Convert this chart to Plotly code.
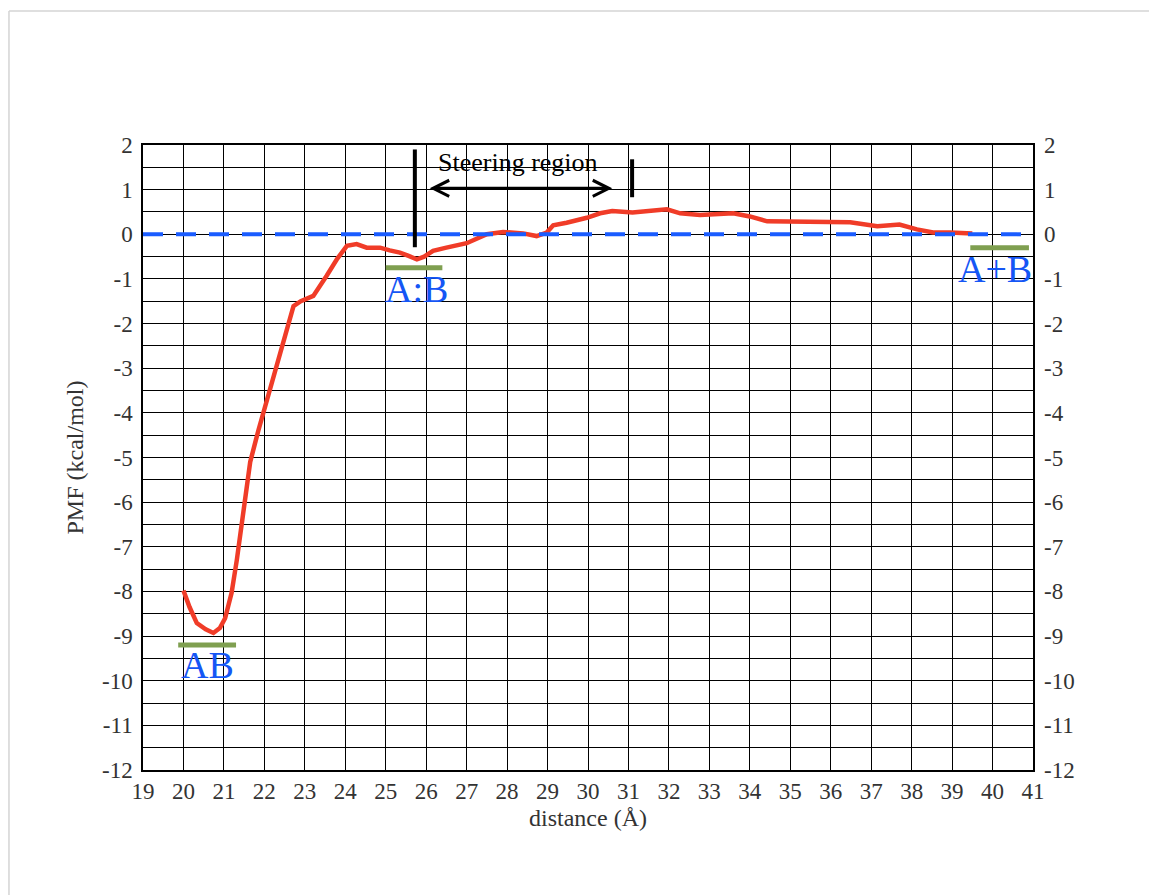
import plotly.graph_objects as go

# PMF profile along the separation coordinate
distance = [20.00, 20.15, 20.33, 20.55, 20.74, 20.9, 21.03, 21.19, 21.32, 21.42, 21.52,
            21.65, 21.85, 22.05, 22.3, 22.55, 22.72, 22.9, 23.21, 23.54, 23.8, 24.04,
            24.28, 24.53, 24.86, 25.1, 25.35, 25.55, 25.77, 25.95, 26.17, 26.5, 27.0,
            27.5, 27.9, 28.4, 28.73, 28.98, 29.14, 29.47, 29.97, 30.3, 30.6, 31.1,
            31.45, 31.95, 32.28, 32.77, 33.59, 34.0, 34.43, 35.0, 35.66, 36.48, 37.15,
            37.7, 38.13, 38.53, 38.95, 39.5]
pmf = [-7.98, -8.35, -8.71, -8.85, -8.93, -8.82, -8.6, -8.03, -7.29, -6.6, -5.9,
       -5.1, -4.4, -3.75, -3.0, -2.13, -1.61, -1.5, -1.38, -0.93, -0.55, -0.26,
       -0.22, -0.3, -0.3, -0.36, -0.41, -0.48, -0.56, -0.5, -0.37, -0.3, -0.2,
       0.0, 0.05, 0.02, -0.04, 0.04, 0.2, 0.26, 0.37, 0.47, 0.52, 0.49,
       0.52, 0.56, 0.47, 0.43, 0.47, 0.4, 0.29, 0.28, 0.27, 0.27, 0.18,
       0.22, 0.11, 0.04, 0.04, 0.02]

# Zero reference line
baseline_x = [19, 41]
baseline_y = [0, 0]

# State levels: (label, x start, x end, level, label x, label y)
state_names = ["AB", "A:B", "A+B"]
state_x0 = [19.87, 25.0, 39.45]
state_x1 = [21.3, 26.4, 40.9]
state_level = [-9.2, -0.75, -0.3]
state_label_x = [20.6, 25.77, 40.06]
state_label_y = [-9.64, -1.23, -0.78]

# Steering region markers
steer_start = 25.72
steer_end = 31.09
steer_arrow = [26.05, 30.6]
steer_arrow_y = 1.03

y_ticks = list(range(2, -13, -1))
y_ticktext = [str(v) for v in y_ticks]
x_ticks = list(range(19, 42))
x_ticktext = [str(v) for v in x_ticks]

SERIF = "Liberation Serif"
TXT = "#333333"
GREEN = "#7f9f50"
BLUE_TXT = "#1556f5"

fig = go.Figure()

fig.add_trace(go.Scatter(x=distance, y=pmf, mode="lines",
                         line=dict(color="#f03c28", width=4.5),
                         showlegend=False, hoverinfo="skip"))

fig.add_trace(go.Scatter(x=baseline_x, y=baseline_y, mode="lines",
                         line=dict(color="#1a5cff", width=4, dash="20px,13px"),
                         showlegend=False, hoverinfo="skip"))

for name, x0, x1, lv, lx, ly in zip(state_names, state_x0, state_x1, state_level,
                                     state_label_x, state_label_y):
    fig.add_trace(go.Scatter(x=[x0, x1], y=[lv, lv], mode="lines",
                             line=dict(color=GREEN, width=5),
                             showlegend=False, hoverinfo="skip"))
    fig.add_annotation(x=lx, y=ly, text=name, showarrow=False,
                       font=dict(family=SERIF, size=38, color=BLUE_TXT))

# invisible trace to carry the right-hand axis
fig.add_trace(go.Scatter(x=[19], y=[0], yaxis="y2", mode="markers",
                         marker=dict(opacity=0), showlegend=False, hoverinfo="skip"))

# steering region bars, arrow and caption
fig.add_shape(type="line", x0=steer_start, x1=steer_start, y0=1.9, y1=-0.29,
              line=dict(color="black", width=4))
fig.add_shape(type="line", x0=steer_end, x1=steer_end, y0=1.68, y1=0.83,
              line=dict(color="black", width=4))
fig.add_annotation(x=steer_arrow[1], y=steer_arrow_y, ax=steer_arrow[0], ay=steer_arrow_y,
                   xref="x", yref="y", axref="x", ayref="y", text="",
                   showarrow=True, arrowhead=5, startarrowhead=5, arrowside="end+start",
                   arrowsize=1.05, startarrowsize=1.05, arrowwidth=3, arrowcolor="black",
                   standoff=0, startstandoff=0)
fig.add_annotation(x=28.27, y=1.61, text="Steering region", showarrow=False,
                   font=dict(family=SERIF, size=26, color="black"))

# page frame
fig.add_shape(type="line", xref="paper", yref="paper", x0=-0.1506, x1=1.2,
              y0=1.2144, y1=1.2144, line=dict(color="#d4d4d4", width=1.5))
fig.add_shape(type="line", xref="paper", yref="paper", x0=-0.1506, x1=-0.1506,
              y0=1.2144, y1=-0.3, line=dict(color="#d4d4d4", width=1.5))

axis_common = dict(showline=True, linecolor="black", linewidth=1.5, mirror=True,
                   showgrid=True, gridcolor="black", gridwidth=1.3, zeroline=False,
                   ticks="", tickfont=dict(family=SERIF, size=23, color=TXT))

fig.update_layout(
    width=1149, height=895,
    margin=dict(l=143, r=116, t=145, b=125),
    paper_bgcolor="white", plot_bgcolor="white",
    xaxis=dict(range=[19, 41], tickvals=x_ticks, ticktext=x_ticktext,
               title=dict(text="distance (Å)", font=dict(family=SERIF, size=24, color=TXT),
                          standoff=6),
               **axis_common),
    yaxis=dict(range=[-12, 2], tickvals=y_ticks, ticktext=y_ticktext,
               ticklabelstandoff=4,
               minor=dict(dtick=0.5, showgrid=True, gridcolor="black", gridwidth=1.3),
               title=dict(text="PMF (kcal/mol)", font=dict(family=SERIF, size=24, color=TXT),
                          standoff=12),
               **axis_common),
    yaxis2=dict(range=[-12, 2], tickvals=y_ticks, ticktext=y_ticktext, overlaying="y",
                side="right", showgrid=False, zeroline=False, ticks="",
                ticklabelstandoff=10,
                tickfont=dict(family=SERIF, size=23, color=TXT)),
)

fig.write_html("out.html")
